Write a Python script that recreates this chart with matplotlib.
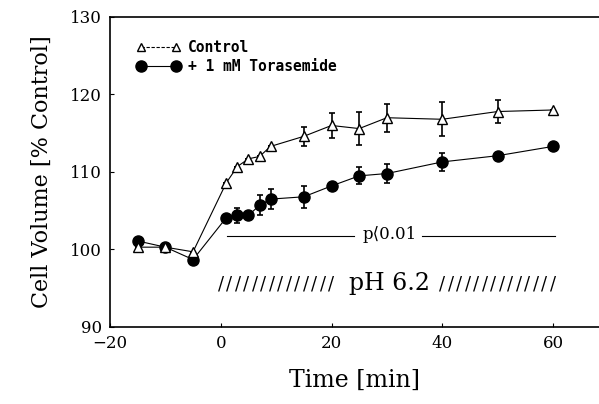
import numpy as np
import matplotlib.pyplot as plt
from matplotlib.lines import Line2D

# time points [min]
time = [-15, -10, -5, 1, 3, 5, 7, 9, 15, 20, 25, 30, 40, 50, 60]

# cell volume [% control]
control = [100.3, 100.3, 99.7, 108.6, 110.7, 111.7, 112.0, 113.3,
           114.6, 116.0, 115.6, 117.0, 116.8, 117.8, 118.0]
control_err = [0, 0, 0, 0, 0, 0, 0, 0, 1.2, 1.6, 2.1, 1.8, 2.2, 1.5, 0]

torasemide = [101.1, 100.3, 98.7, 104.1, 104.4, 104.4, 105.7, 106.5,
              106.8, 108.2, 109.5, 109.8, 111.3, 112.1, 113.3]
torasemide_err = [0, 0, 0, 0, 1.0, 0, 1.3, 1.3, 1.4, 0, 1.1, 1.2, 1.2, 0, 0]

xticks = [-20, 0, 20, 40, 60]
yticks = [90, 100, 110, 120, 130]

plt.rcParams['font.family'] = 'DejaVu Serif'

fig = plt.figure(figsize=(5.99, 4.04), dpi=100)
ax = fig.add_axes((0.1836, 0.1906, 0.8164, 0.7674))

ax.errorbar(time, control, yerr=control_err, fmt='none', ecolor='k',
            elinewidth=1.2, capsize=2, capthick=1.2, zorder=2)
ax.plot(time, control, color='k', lw=0.8, marker='^', ms=7,
        mfc='white', mec='k', mew=1.0, zorder=4)

ax.errorbar(time, torasemide, yerr=torasemide_err, fmt='none', ecolor='k',
            elinewidth=1.2, capsize=2, capthick=1.2, zorder=2)
ax.plot(time, torasemide, color='k', lw=0.8, marker='o', ms=8,
        mfc='k', mec='k', zorder=3)

# significance line
ax.plot([1.2, 24], [101.7, 101.7], color='k', lw=0.8)
ax.plot([36.3, 60.4], [101.7, 101.7], color='k', lw=0.8)
ax.text(30.5, 101.9, 'p\u27e80.01', ha='center', va='center', fontsize=12)

# pH period: hatch marks either side of the label
for x0, x1 in [(0, 20), (40, 60)]:
    for xs in np.linspace(x0, x1, 14):
        ax.text(xs, 95.5, '/', ha='center', va='center', fontsize=13)
ax.text(30.5, 95.6, 'pH 6.2', ha='center', va='center', fontsize=17)

# legend
handles = [Line2D([], [], color='k', lw=0.8, ls=(0, (3, 1.5)), marker='^',
                  ms=6, mfc='white', mec='k'),
           Line2D([], [], color='k', lw=0.8, marker='o', ms=8, mfc='k', mec='k')]
ax.legend(handles, ['Control', '+ 1 mM Torasemide'], loc='upper left',
          bbox_to_anchor=(0.055, 0.925), frameon=False, numpoints=2,
          borderaxespad=0, borderpad=0,
          handlelength=3.0, labelspacing=0.25, handletextpad=0.5,
          prop={'family': 'DejaVu Sans Mono', 'weight': 'bold', 'size': 10.5})

ax.set_xlim(-20, 68.3)
ax.set_ylim(90, 130)
ax.set_xticks(xticks)
ax.set_yticks(yticks)
ax.set_xticklabels(['\u221220', '0', '20', '40', '60'])
ax.tick_params(direction='in', length=3, labelsize=12, pad=6)
ax.spines['right'].set_visible(False)
for s in ['left', 'bottom', 'top']:
    ax.spines[s].set_linewidth(1.2)

ax.set_xlabel('Time [min]', fontsize=17, labelpad=12)
ax.set_ylabel('Cell Volume [% Control]', fontsize=16, labelpad=12)

fig.savefig('out.png', dpi=100)
